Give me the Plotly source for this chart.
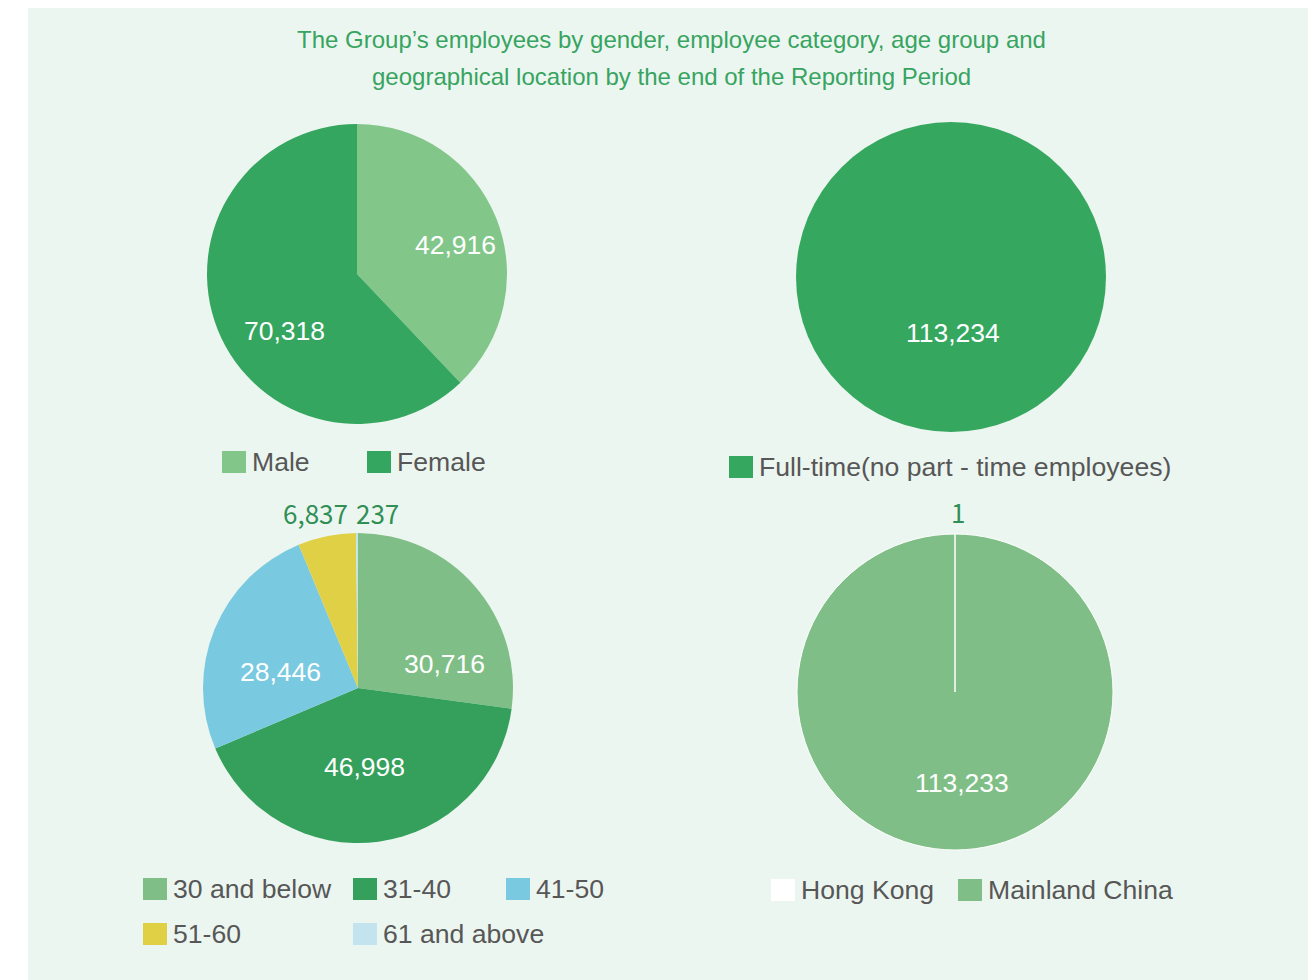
import plotly.graph_objects as go

W, H = 1316, 980

# data
gender_labels = ["Male", "Female"]
gender_values = [42916, 70318]
gender_colors = ["#82c68a", "#34a65f"]

category_labels = ["Full-time(no part - time employees)"]
category_values = [113234]
category_colors = ["#35a75f"]

age_labels = ["30 and below", "31-40", "41-50", "51-60", "61 and above"]
age_values = [30716, 46998, 28446, 6837, 237]
age_colors = ["#7fbf87", "#34a05c", "#79c9e0", "#e0d046", "#c3e4ee"]

region_labels = ["Hong Kong", "Mainland China"]
region_values = [1, 113233]
region_colors = ["#ffffff", "#7fbf87"]

title_lines = ["The Group\u2019s employees by gender, employee category, age group and",
               "geographical location by the end of the Reporting Period"]

# the page itself sits 8px in from the window corner
OFF = 8


def px_x(x):
    return (x - OFF) / W


def px_y(y):
    return 1 - (y - OFF) / H


def dom(x0, x1, y0, y1):
    return dict(x=[px_x(x0), px_x(x1)], y=[px_y(y1), px_y(y0)])


FONT = "Liberation Sans, Arial, sans-serif"
TEXT_GREY = "#575757"
GREEN = "#37a460"


def pie(labels, values, colors, domain, line_w=0):
    return go.Pie(
        labels=labels,
        values=values,
        marker=dict(colors=colors, line=dict(color="white", width=line_w)),
        domain=domain,
        sort=False,
        direction="clockwise",
        rotation=0,
        textinfo="none",
        showlegend=False,
        hoverinfo="label+value+percent",
    )


# (labels, values, colors, pie box, slice label spots, legend spots)
charts = [
    (gender_labels, gender_values, gender_colors, (207, 507, 124, 424),
     [(455, 245), (284, 331)], [(222, 462), (367, 462)]),
    (category_labels, category_values, category_colors, (796, 1106, 122, 432),
     [(953, 333)], [(729, 467)]),
    (age_labels, age_values, age_colors, (203, 513, 533, 843),
     [(444, 664), (364, 767), (280, 672), (315, 513), (377, 513)],
     [(143, 889), (353, 889), (506, 889), (143, 934), (353, 934)]),
    (region_labels, region_values, region_colors, (797, 1113, 534, 850),
     [(958, 512), (962, 783)], [(771, 890), (958, 890)]),
]

fig = go.Figure()
shapes = [dict(type="rect", xref="paper", yref="paper", layer="below",
               x0=px_x(28), x1=px_x(1340), y0=px_y(1000), y1=px_y(8),
               fillcolor="#ecf6f0", line=dict(width=0))]
annotations = []

for i, line in enumerate(title_lines):
    annotations.append(dict(text=line, x=px_x(671), y=px_y(40 + 37 * i),
                            xref="paper", yref="paper", showarrow=False,
                            xanchor="center", yanchor="middle",
                            font=dict(size=24, color=GREEN, family=FONT)))

for k, (labels, values, colors, box, spots, leg) in enumerate(charts):
    fig.add_trace(pie(labels, values, colors, dom(*box), line_w=1 if k == 3 else 0))
    total = sum(values)
    for v, (x, y) in zip(values, spots):
        small = v / total < 0.1
        annotations.append(dict(
            text=f"{v:,}", x=px_x(x), y=px_y(y), xref="paper", yref="paper",
            showarrow=False, xanchor="center", yanchor="middle",
            font=dict(size=26, color="#2f8f55", family="Noto Sans CJK SC, sans-serif")
            if small else dict(size=26.5, color="white", family=FONT)))
    for lab, col, (x, y) in zip(labels, colors, leg):
        shapes.append(dict(type="rect", xref="paper", yref="paper",
                           x0=px_x(x), x1=px_x(x + 24), y0=px_y(y + 11), y1=px_y(y - 11),
                           fillcolor=col, line=dict(width=0)))
        annotations.append(dict(text=lab, x=px_x(x + 28), y=px_y(y), xref="paper", yref="paper",
                                showarrow=False, xanchor="left", yanchor="middle",
                                font=dict(size=26.6, color=TEXT_GREY, family=FONT)))

fig.update_layout(
    width=W, height=H,
    margin=dict(l=0, r=0, t=0, b=0),
    paper_bgcolor="white",
    plot_bgcolor="white",
    shapes=shapes,
    annotations=annotations,
    font=dict(family=FONT),
)

fig.write_html("out.html")
